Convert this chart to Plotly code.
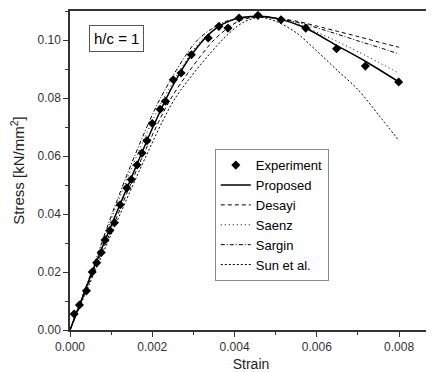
import plotly.graph_objects as go

# Experiment data
exp_strain = [0.00010, 0.00023, 0.00040, 0.00054, 0.00065, 0.00076, 0.00085, 0.00097, 0.00108,
              0.00122, 0.00138, 0.00149, 0.00163, 0.00175, 0.00187, 0.00200, 0.00219, 0.00232,
              0.00251, 0.00270, 0.00295, 0.00336, 0.00362, 0.00384, 0.00411, 0.00457, 0.00513,
              0.00573, 0.00648, 0.00718, 0.00799]
exp_stress = [0.0055, 0.0086, 0.0135, 0.0200, 0.0232, 0.0267, 0.0310, 0.0343, 0.0370,
              0.0432, 0.0490, 0.0519, 0.0569, 0.0610, 0.0653, 0.0712, 0.0761, 0.0789,
              0.0863, 0.0886, 0.0949, 0.1007, 0.1047, 0.1041, 0.1076, 0.1085, 0.1070,
              0.1041, 0.0970, 0.0910, 0.0855]

# Model curves
prop_strain = [0, 0.0005, 0.001, 0.0015, 0.002, 0.0025, 0.003, 0.0035, 0.004, 0.0046, 0.0051, 0.0057, 0.0065, 0.0072, 0.008]
prop_stress = [0, 0.0185, 0.036, 0.0528, 0.0695, 0.0843, 0.0958, 0.1035, 0.1072, 0.1082, 0.1072, 0.1043, 0.0980, 0.0925, 0.0855]

desayi_strain = [0, 0.00057, 0.00117, 0.00177, 0.00246, 0.0035, 0.0041, 0.0046, 0.0055, 0.006, 0.0065, 0.007, 0.0075, 0.008]
desayi_stress = [0, 0.02, 0.04, 0.06, 0.08, 0.1, 0.1065, 0.108, 0.1065, 0.1048, 0.1030, 0.1012, 0.0993, 0.0975]

saenz_strain = [0, 0.00053, 0.00105, 0.00162, 0.00228, 0.0032, 0.0039, 0.0046, 0.0055, 0.006, 0.0065, 0.007, 0.0075, 0.008]
saenz_stress = [0, 0.02, 0.04, 0.06, 0.08, 0.1, 0.1065, 0.108, 0.1058, 0.1027, 0.0995, 0.0960, 0.0923, 0.0885]

sargin_strain = [0, 0.00052, 0.00102, 0.00157, 0.0022, 0.0031, 0.0038, 0.0046, 0.0055, 0.006, 0.0065, 0.007, 0.0075, 0.008]
sargin_stress = [0, 0.02, 0.04, 0.06, 0.08, 0.1, 0.1065, 0.108, 0.1062, 0.1042, 0.1020, 0.0997, 0.0975, 0.0952]

sun_strain = [0, 0.00060, 0.00122, 0.00185, 0.00256, 0.0037, 0.0042, 0.0046, 0.005, 0.0055, 0.006, 0.0065, 0.007, 0.0075, 0.008]
sun_stress = [0, 0.02, 0.04, 0.06, 0.08, 0.1, 0.1060, 0.1078, 0.1065, 0.1025, 0.0962, 0.0895, 0.0829, 0.0742, 0.0652]

x_ticks = [0.000, 0.002, 0.004, 0.006, 0.008]
y_ticks = [0.00, 0.02, 0.04, 0.06, 0.08, 0.10]

fig = go.Figure()
fig.add_trace(go.Scatter(x=exp_strain, y=exp_stress, mode="markers", name="Experiment",
                         marker=dict(symbol="diamond", size=7, color="black")))
fig.add_trace(go.Scatter(x=prop_strain, y=prop_stress, mode="lines", name="Proposed",
                         line=dict(color="black", width=1.5, shape="spline", smoothing=0.8)))
fig.add_trace(go.Scatter(x=desayi_strain, y=desayi_stress, mode="lines", name="Desayi",
                         line=dict(color="black", width=1, dash="4px,3px", shape="spline", smoothing=0.8)))
fig.add_trace(go.Scatter(x=saenz_strain, y=saenz_stress, mode="lines", name="Saenz",
                         line=dict(color="black", width=1, dash="1px,3px", shape="spline", smoothing=0.8)))
fig.add_trace(go.Scatter(x=sargin_strain, y=sargin_stress, mode="lines", name="Sargin",
                         line=dict(color="black", width=1, dash="4px,2px,1px,2px", shape="spline", smoothing=0.8)))
fig.add_trace(go.Scatter(x=sun_strain, y=sun_stress, mode="lines", name="Sun et al.",
                         line=dict(color="black", width=1, dash="2px,2px", shape="spline", smoothing=0.8)))

axis_common = dict(showgrid=False, zeroline=False, showline=True, linecolor="#333", linewidth=1.5,
                   mirror=True, ticks="outside", ticklen=5, tickcolor="#333", tickwidth=1,
                   tickfont=dict(family="Liberation Sans, Arial", size=12, color="#333"))

# page has an 8px body margin; size the figure so the plot lands where the reference has it
fig.update_layout(
    width=426, height=364,
    margin=dict(l=62, r=0, t=3, b=42),
    paper_bgcolor="white", plot_bgcolor="white",
    font=dict(family="Liberation Sans, Arial", color="#222"),
    xaxis=dict(range=[0, 0.0088], tickvals=x_ticks, ticktext=[f"{v:.3f}" for v in x_ticks],
               title=dict(text="Strain", font=dict(size=14), standoff=6),
               minor=dict(ticks="outside", ticklen=3, dtick=0.001, tickcolor="#333"),
               **axis_common),
    yaxis=dict(range=[0, 0.11], tickvals=y_ticks, ticktext=[f"{v:.2f}" for v in y_ticks],
               title=dict(text="Stress [kN/mm<sup>2</sup>]", font=dict(size=15), standoff=10),
               minor=dict(ticks="outside", ticklen=3, dtick=0.01, tickcolor="#333"),
               **axis_common),
    legend=dict(x=0.40, y=0.567, xanchor="left", yanchor="top",
                bordercolor="#888", borderwidth=1, bgcolor="white",
                font=dict(size=13, family="Liberation Sans, Arial", color="black"),
                tracegroupgap=0, itemwidth=30),
    showlegend=True,
    annotations=[dict(text="h/c = 1", xref="paper", yref="paper", x=0.052, y=0.955,
                      xanchor="left", yanchor="top", showarrow=False,
                      font=dict(size=15, family="Liberation Sans, Arial", color="black"),
                      bordercolor="#555", borderwidth=1, borderpad=4, bgcolor="white")],
)

fig.write_html("out.html")
